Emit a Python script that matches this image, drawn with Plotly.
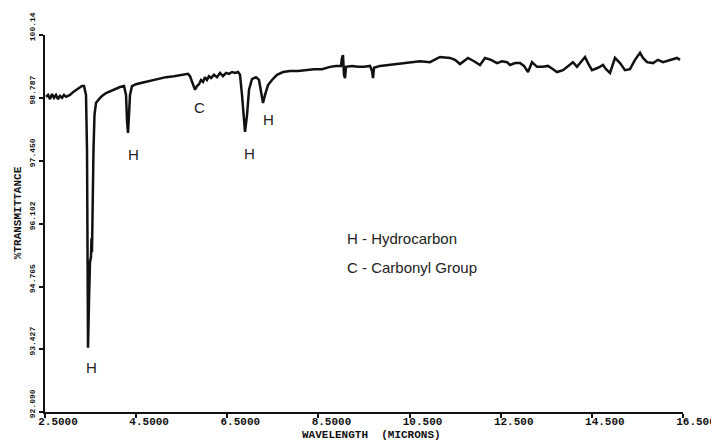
import plotly.graph_objects as go

# Wavelength (microns)
wavelength = [
    2.522, 2.566, 2.610, 2.654, 2.697, 2.741, 2.785, 2.829, 2.873, 2.917,
    2.961, 3.005, 3.049, 3.114, 3.180, 3.246, 3.312, 3.356, 3.400, 3.422,
    3.433, 3.444, 3.466, 3.487, 3.509, 3.520, 3.531, 3.537, 3.542, 3.548,
    3.553, 3.564, 3.586, 3.619, 3.685, 3.751, 3.839, 3.926, 4.036, 4.146,
    4.234, 4.278, 4.299, 4.321, 4.343, 4.365, 4.409, 4.497, 4.629, 4.804,
    4.980, 5.155, 5.331, 5.506, 5.638, 5.682, 5.748, 5.792, 5.835, 5.879,
    5.923, 5.967, 6.011, 6.055, 6.099, 6.143, 6.209, 6.274, 6.340, 6.406,
    6.472, 6.538, 6.604, 6.669, 6.735, 6.779, 6.823, 6.867, 6.889, 6.933,
    6.977, 7.042, 7.130, 7.196, 7.240, 7.284, 7.328, 7.394, 7.481, 7.591,
    7.723, 7.876, 8.052, 8.227, 8.403, 8.578, 8.754, 8.886, 8.995, 9.017,
    9.039, 9.061, 9.083, 9.105, 9.237, 9.369, 9.500, 9.632, 9.676, 9.698,
    9.720, 9.852, 10.027, 10.203, 10.378, 10.554, 10.729, 10.948, 11.168, 11.387,
    11.497, 11.607, 11.782, 11.914, 12.046, 12.155, 12.287, 12.419, 12.528, 12.638,
    12.704, 12.814, 12.923, 13.011, 13.099, 13.187, 13.296, 13.428, 13.538, 13.648,
    13.735, 13.867, 13.977, 14.086, 14.174, 14.262, 14.350, 14.415, 14.503, 14.635,
    14.745, 14.811, 14.898, 15.008, 15.118, 15.228, 15.337, 15.447, 15.557, 15.623,
    15.711, 15.842, 15.952, 16.062, 16.216, 16.369, 16.435,
]

# % Transmittance
transmittance = [
    98.82, 98.86, 98.77, 98.88, 98.80, 98.86, 98.77, 98.84, 98.80, 98.86,
    98.82, 98.84, 98.86, 98.92, 98.97, 99.01, 99.05, 99.05, 98.86, 97.68,
    95.55, 93.46, 94.48, 95.29, 95.40, 95.80, 95.50, 96.10, 95.90, 96.50,
    96.87, 97.68, 98.43, 98.69, 98.77, 98.84, 98.90, 98.94, 98.99, 99.03,
    99.05, 98.86, 98.33, 98.05, 98.43, 98.86, 99.05, 99.09, 99.12, 99.16,
    99.20, 99.24, 99.26, 99.29, 99.31, 99.26, 99.07, 98.97, 99.05, 99.09,
    99.18, 99.14, 99.24, 99.18, 99.26, 99.22, 99.29, 99.24, 99.33, 99.26,
    99.33, 99.31, 99.35, 99.33, 99.35, 99.29, 98.86, 98.22, 98.07, 98.43,
    98.97, 99.20, 99.24, 99.18, 98.92, 98.69, 98.86, 99.07, 99.18, 99.29,
    99.35, 99.37, 99.37, 99.39, 99.41, 99.41, 99.46, 99.48, 99.48, 99.65,
    99.71, 99.29, 99.22, 99.46, 99.48, 99.46, 99.46, 99.48, 99.37, 99.22,
    99.44, 99.48, 99.50, 99.52, 99.54, 99.56, 99.58, 99.56, 99.67, 99.65,
    99.61, 99.52, 99.65, 99.58, 99.50, 99.65, 99.61, 99.54, 99.58, 99.56,
    99.50, 99.54, 99.54, 99.48, 99.35, 99.56, 99.46, 99.46, 99.48, 99.41,
    99.35, 99.39, 99.48, 99.56, 99.46, 99.56, 99.67, 99.54, 99.39, 99.44,
    99.50, 99.41, 99.33, 99.65, 99.54, 99.39, 99.41, 99.61, 99.76, 99.65,
    99.56, 99.54, 99.61, 99.56, 99.61, 99.65, 99.61,
]

x_tick_values = [2.5, 4.5, 6.5, 8.5, 10.5, 12.5, 14.5, 16.5]
x_tick_labels = ["2.5000", "4.5000", "6.5000", "8.5000", "10.500", "12.500", "14.500", "16.500"]
y_tick_values = [92.090, 93.427, 94.765, 96.102, 97.450, 98.787, 100.14]
y_tick_labels = ["92.090", "93.427", "94.765", "96.102", "97.450", "98.787", "100.14"]

x_title = "WAVELENGTH  (MICRONS)"
y_title = "%TRANSMITTANCE"

# Peak labels: (wavelength, transmittance, text)
peak_label_x = [3.51, 4.431, 5.901, 6.977, 7.394]
peak_label_y = [93.05, 97.58, 98.60, 97.62, 98.33]
peak_label_text = ["H", "H", "C", "H", "H"]

legend_lines = ["H - Hydrocarbon", "C - Carbonyl Group"]
legend_y = [95.805, 95.165]
legend_x = 9.083

mono = dict(family="Liberation Mono", size=11, color="#111111", weight="bold")
mono_small = dict(family="Liberation Mono", size=8, color="#111111", weight="bold")

fig = go.Figure()
fig.add_trace(go.Scatter(
    x=wavelength, y=transmittance, mode="lines",
    line=dict(color="#111111", width=2.5),
    showlegend=False, hoverinfo="skip",
))

for xv, yv, t in zip(peak_label_x, peak_label_y, peak_label_text):
    fig.add_annotation(x=xv, y=yv, text=t, showarrow=False,
                       font=dict(family="Liberation Sans", size=15, color="#222222"))

for t, yv in zip(legend_lines, legend_y):
    fig.add_annotation(x=legend_x, y=yv, text=t, showarrow=False, xanchor="left",
                       font=dict(family="Liberation Sans", size=15, color="#222222"))

# Axis titles placed as paper-referenced annotations
fig.add_annotation(xref="paper", yref="paper", x=0.511, y=-0.060, text=x_title,
                   showarrow=False, xanchor="center", yanchor="middle", font=mono)
fig.add_annotation(xref="paper", yref="paper", x=-0.042, y=0.528, text=y_title,
                   showarrow=False, xanchor="center", yanchor="middle", textangle=-90,
                   font=mono)

# The page body has an 8px margin, so the figure is sized/margined to compensate
fig.update_layout(
    width=711, height=433,
    margin=dict(l=37, r=36, t=27, b=29, autoexpand=False),
    paper_bgcolor="white", plot_bgcolor="white",
    xaxis=dict(
        range=[2.5, 16.5], tickvals=x_tick_values, ticktext=x_tick_labels,
        automargin=False,
        showgrid=False, zeroline=False, showline=True, linecolor="#111111", linewidth=1.5,
        ticks="outside", ticklen=4, tickwidth=1.5, tickcolor="#111111",
        tickfont=mono, ticklabelshift=13, ticklabelstandoff=-6,
        ticklabeloverflow="allow",
    ),
    yaxis=dict(
        range=[92.090, 100.14], tickvals=y_tick_values, ticktext=y_tick_labels,
        automargin=False,
        showgrid=False, zeroline=False, showline=True, linecolor="#111111", linewidth=1.5,
        ticks="outside", ticklen=4, tickwidth=1.5, tickcolor="#111111",
        tickfont=mono_small, tickangle=-90, ticklabelshift=-7, ticklabelstandoff=1,
        ticklabeloverflow="allow",
    ),
    xaxis2=dict(
        range=[2.5, 16.5], overlaying="x", anchor="y", tickvals=x_tick_values,
        automargin=False,
        showticklabels=False, showgrid=False, zeroline=False, showline=False,
        ticks="inside", ticklen=4, tickwidth=1.5, tickcolor="#111111",
    ),
    yaxis2=dict(
        range=[92.090, 100.14], overlaying="y", anchor="x", tickvals=y_tick_values,
        automargin=False,
        showticklabels=False, showgrid=False, zeroline=False, showline=False,
        ticks="inside", ticklen=4, tickwidth=1.5, tickcolor="#111111",
    ),
)

fig.write_html("out.html")
